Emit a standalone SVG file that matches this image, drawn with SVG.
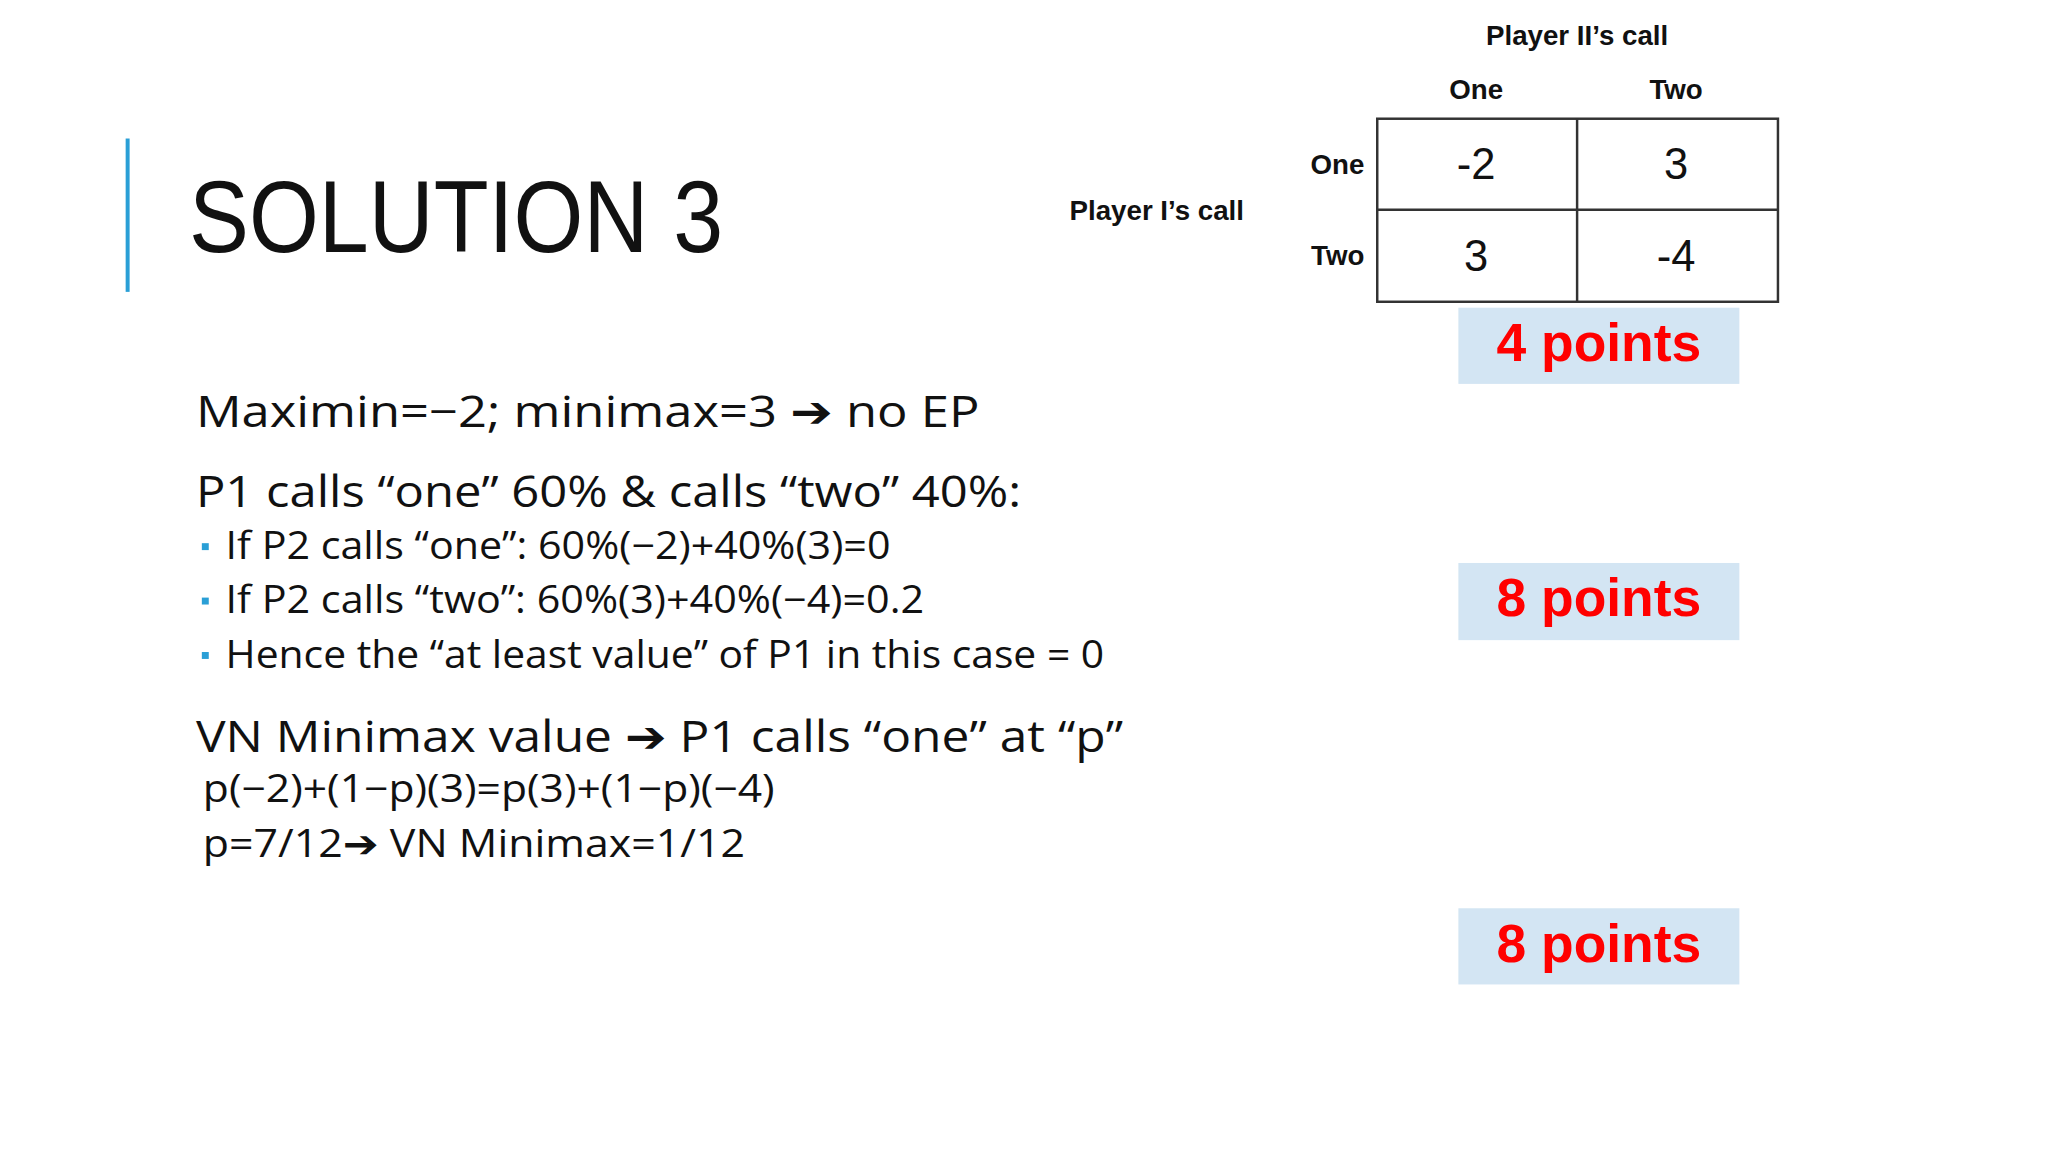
<svg xmlns="http://www.w3.org/2000/svg" width="2048" height="1152" viewBox="0 0 2048 1152">
<style>
.b{font-family:"Open Sans","Liberation Sans",sans-serif;fill:#111}
.t{font-family:"Liberation Sans",Arial,sans-serif;fill:#111}
.p{font-family:"Liberation Sans",Arial,sans-serif;font-weight:bold;fill:#f00;font-size:54px;text-anchor:middle}
.box{fill:#d3e5f3}
.h{font-family:"Liberation Sans",Arial,sans-serif;font-weight:bold;font-size:28px;fill:#111}
.c{font-family:"Liberation Sans",Arial,sans-serif;font-size:44px;fill:#111;text-anchor:middle}
.ar{font-family:"DejaVu Sans",sans-serif}
</style>
<rect width="2048" height="1152" fill="#fff"/>
<g transform="scale(0.9894)">
<rect x="127" y="140" width="4" height="155" fill="#2a9fd6"/>
<text class="t" x="191" y="255" font-size="104" textLength="540" lengthAdjust="spacingAndGlyphs">SOLUTION 3</text>
<g id="table">
<rect x="1392" y="120" width="405" height="185" fill="none" stroke="#333" stroke-width="2.5"/>
<line x1="1594" y1="120" x2="1594" y2="305" stroke="#333" stroke-width="2.5"/>
<line x1="1392" y1="212" x2="1797" y2="212" stroke="#333" stroke-width="2.5"/>
<text class="h" x="1594" y="45" text-anchor="middle">Player II’s call</text>
<text class="h" x="1492" y="100" text-anchor="middle">One</text>
<text class="h" x="1694" y="100" text-anchor="middle">Two</text>
<text class="h" x="1379" y="176" text-anchor="end">One</text>
<text class="h" x="1379" y="268" text-anchor="end">Two</text>
<text class="h" x="1081" y="222">Player I’s call</text>
<text class="c" x="1492" y="181">-2</text>
<text class="c" x="1694" y="181">3</text>
<text class="c" x="1492" y="274">3</text>
<text class="c" x="1694" y="274">-4</text>
</g>
<g id="pts1"><rect class="box" x="1474" y="311" width="284" height="77"/><text class="p" x="1616" y="365">4 points</text></g>
<g id="pts2"><rect class="box" x="1474" y="569" width="284" height="78"/><text class="p" x="1616" y="623">8 points</text></g>
<g id="pts3"><rect class="box" x="1474" y="918" width="284" height="77"/><text class="p" x="1616" y="972">8 points</text></g>
<g id="body">
<text class="b" x="198" y="432" font-size="44" textLength="792" lengthAdjust="spacingAndGlyphs">Maximin=−2; minimax=3 <tspan class="ar">➔</tspan> no EP</text>
<text class="b" x="198" y="512" font-size="44" textLength="834" lengthAdjust="spacingAndGlyphs">P1 calls “one” 60% &amp; calls “two” 40%:</text>
<rect x="204" y="549" width="7" height="7" fill="#2a9fd6"/>
<rect x="204" y="604" width="7" height="7" fill="#2a9fd6"/>
<rect x="204" y="659" width="7" height="7" fill="#2a9fd6"/>
<text class="b" x="228" y="565" font-size="38" textLength="672" lengthAdjust="spacingAndGlyphs">If P2 calls “one”: 60%(−2)+40%(3)=0</text>
<text class="b" x="228" y="620" font-size="38" textLength="706" lengthAdjust="spacingAndGlyphs">If P2 calls “two”: 60%(3)+40%(−4)=0.2</text>
<text class="b" x="228" y="675" font-size="38" textLength="888" lengthAdjust="spacingAndGlyphs">Hence the “at least value” of P1 in this case = 0</text>
<text class="b" x="198" y="760" font-size="44" textLength="937" lengthAdjust="spacingAndGlyphs">VN Minimax value <tspan class="ar">➔</tspan> P1 calls “one” at “p”</text>
<text class="b" x="205" y="811" font-size="38" textLength="578" lengthAdjust="spacingAndGlyphs">p(−2)+(1−p)(3)=p(3)+(1−p)(−4)</text>
<text class="b" x="205" y="866" font-size="38" textLength="548" lengthAdjust="spacingAndGlyphs">p=7/12<tspan class="ar">➔</tspan> VN Minimax=1/12</text>
</g>
</g>
</svg>
